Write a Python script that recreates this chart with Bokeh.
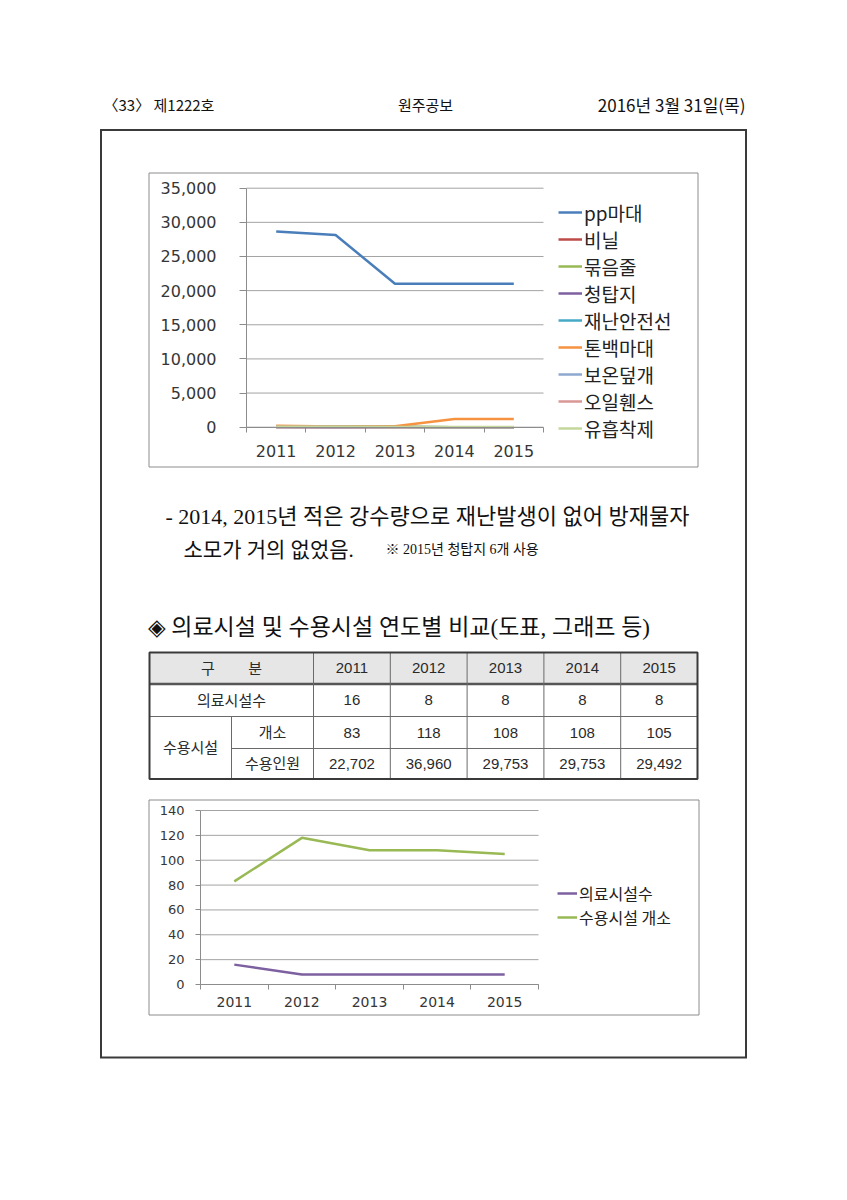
from bokeh.plotting import figure
from bokeh.models import (Range1d, Legend, LegendItem, FixedTicker, LinearAxis,
                          NumeralTickFormatter, BasicTickFormatter, ColumnDataSource)
from bokeh.core.properties import value
from bokeh.embed import file_html
from bokeh.resources import INLINE

# ------------------------------------------------------------------ data
years = [2011, 2012, 2013, 2014, 2015]

material_names = ["pp마대", "비닐", "묶음줄", "청탑지", "재난안전선",
                  "톤백마대", "보온덮개", "오일휀스", "유흡착제"]
pp_bags = [28650, 28150, 21000, 21000, 21000]
vinyl = [60, 40, 30, 0, 0]
bundle_rope = [120, 90, 60, 0, 0]
blue_tarp = [20, 10, 10, 0, 6]
safety_line = [40, 30, 20, 0, 0]
ton_bags = [200, 100, 150, 1200, 1200]
warm_cover = [30, 20, 10, 0, 0]
oil_fence = [10, 10, 5, 0, 0]
absorbent = [80, 60, 40, 20, 20]
material_colors = ["#4A7EBB", "#BE4B48", "#98B954", "#7D60A0", "#46AAC5",
                   "#F69240", "#8EA9D0", "#D99795", "#C4D79B"]
y1_ticks = [0, 5000, 10000, 15000, 20000, 25000, 30000, 35000]

facility_names = ["의료시설수", "수용시설 개소"]
medical_facilities = [16, 8, 8, 8, 8]
shelter_sites = [83, 118, 108, 108, 105]
shelter_capacity = [22702, 36960, 29753, 29753, 29492]
facility_colors = ["#7D60A0", "#98B954"]
y2_ticks = [0, 20, 40, 60, 80, 100, 120, 140]

header_left = "〈33〉 제1222호"
header_mid = "원주공보"
header_right = "2016년 3월 31일(목)"
para_line1 = "- 2014, 2015년 적은 강수량으로 재난발생이 없어 방재물자"
para_line2 = "소모가 거의 없었음."
para_note = "※ 2015년 청탑지 6개 사용"
heading = "◈ 의료시설 및 수용시설 연도별 비교(도표, 그래프 등)"
table_head = "구\u00a0\u00a0\u00a0\u00a0\u00a0\u00a0\u00a0\u00a0분"
row_medical = "의료시설수"
row_shelter = "수용시설"
row_sites = "개소"
row_capacity = "수용인원"

# ------------------------------------------------------------------ layout constants
W, H = 847, 1200
KR = "Noto Sans CJK KR"
SERIF = "'Liberation Serif', 'Noto Sans CJK KR'"
TABLE_FONT = "'Liberation Sans', 'Noto Sans CJK KR'"
TICK_FONT = "DejaVu Sans"
BOX = dict(l=100.5, r=745.5, t=129.5, b=1057.0)
BOX_COLOR = "#3a3a3a"
C1 = dict(l=148.5, r=697.5, t=172.5, b=466.5)
C2 = dict(l=148.5, r=698.5, t=799.5, b=1014.5)
P1 = dict(x0=246.0, x1=543.0, y0=426.7, y1=187.7)   # plot area of chart 1 (page px)
P2 = dict(x0=200.0, x1=538.0, y0=984.0, y1=810.0)   # plot area of chart 2 (page px)
TBL_X = [149, 231, 313] + [313 + i * 76.8 for i in range(1, 6)]
TBL_Y = [652, 683.5, 716, 748, 778.5]


def mapped_range(d0, p0, d1, p1, p_start, p_end):
    k = (d1 - d0) / (p1 - p0)
    return Range1d(start=d0 + (p_start - p0) * k, end=d0 + (p_end - p0) * k)


p = figure(width=W, height=H, x_range=Range1d(0, W), y_range=Range1d(H, 0),
           output_backend="svg", toolbar_location=None, tools="",
           x_axis_location=None, y_axis_location=None, min_border=0,
           outline_line_color=None, background_fill_color="white",
           border_fill_color="white")
p.xgrid.visible = False
p.ygrid.visible = False

x_lo, x_hi = years[0] - 0.5, years[-1] + 0.5
p.extra_x_ranges = {
    "c1x": mapped_range(x_lo, P1["x0"], x_hi, P1["x1"], 0, W),
    "c2x": mapped_range(x_lo, P2["x0"], x_hi, P2["x1"], 0, W),
}
p.extra_y_ranges = {
    "c1y": mapped_range(y1_ticks[0], P1["y0"], y1_ticks[-1], P1["y1"], H, 0),
    "c2y": mapped_range(y2_ticks[0], P2["y0"], y2_ticks[-1], P2["y1"], H, 0),
}


def txt(x, y, s, size, font=KR, align="left", color="#111111"):
    p.text(x=[x], y=[y], text=[s], text_font=value(font), text_font_size=value(size),
           text_align=align, text_baseline="middle", text_color=color)


def hseg(x0, x1, y, color, w):
    p.segment(x0=[x0], y0=[y], x1=[x1], y1=[y], line_color=color, line_width=w)


def vseg(x, y0, y1, color, w):
    p.segment(x0=[x], y0=[y0], x1=[x], y1=[y1], line_color=color, line_width=w)


# ------------------------------------------------------------------ page frame + header
hseg(BOX["l"] - 1, BOX["r"] + 1, BOX["t"], BOX_COLOR, 2)
hseg(BOX["l"] - 1, BOX["r"] + 1, BOX["b"], BOX_COLOR, 2)
vseg(BOX["l"], BOX["t"], BOX["b"], BOX_COLOR, 2)
vseg(BOX["r"], BOX["t"], BOX["b"], BOX_COLOR, 2)
txt(103, 104, header_left, "15px")
txt(425, 104, header_mid, "15px", align="center")
txt(745, 104, header_right, "17px", align="right")

# chart boxes
for c in (C1, C2):
    p.quad(left=[c["l"]], right=[c["r"]], top=[c["t"]], bottom=[c["b"]],
           fill_color=None, line_color="#8c8c8c", line_width=1)

# ------------------------------------------------------------------ text block
txt(165, 516, para_line1, "22px", font=SERIF)
txt(183, 549, para_line2, "21px", font=SERIF)
txt(385, 549, para_note, "14px", font=SERIF)
txt(147, 627, heading, "23px", font=SERIF)

# ------------------------------------------------------------------ table
p.quad(left=[TBL_X[0]], right=[TBL_X[-1]], top=[TBL_Y[0]], bottom=[TBL_Y[1]],
       fill_color="#e6e6e6", line_color=None)
hseg(TBL_X[0], TBL_X[-1], TBL_Y[2], "#6a6a6a", 1)
hseg(TBL_X[1], TBL_X[-1], TBL_Y[3], "#6a6a6a", 1)
hseg(TBL_X[0], TBL_X[-1], TBL_Y[1], "#555555", 2.5)
vseg(TBL_X[1], TBL_Y[2], TBL_Y[4], "#6a6a6a", 1)
for x in TBL_X[2:-1]:
    vseg(x, TBL_Y[0], TBL_Y[4], "#6a6a6a", 1)
p.quad(left=[TBL_X[0]], right=[TBL_X[-1]], top=[TBL_Y[0]], bottom=[TBL_Y[4]],
       fill_color=None, line_color="#3a3a3a", line_width=2)


def mid(a, b):
    return (a + b) / 2


TS = "15px"
tc = "#2a2a2a"
txt(mid(TBL_X[0], TBL_X[2]), mid(TBL_Y[0], TBL_Y[1]), table_head, TS, TABLE_FONT, "center", tc)
txt(mid(TBL_X[0], TBL_X[2]), mid(TBL_Y[1], TBL_Y[2]), row_medical, TS, TABLE_FONT, "center", tc)
txt(mid(TBL_X[0], TBL_X[1]), mid(TBL_Y[2], TBL_Y[4]), row_shelter, TS, TABLE_FONT, "center", tc)
txt(mid(TBL_X[1], TBL_X[2]), mid(TBL_Y[2], TBL_Y[3]), row_sites, TS, TABLE_FONT, "center", tc)
txt(mid(TBL_X[1], TBL_X[2]), mid(TBL_Y[3], TBL_Y[4]), row_capacity, TS, TABLE_FONT, "center", tc)
cols = [mid(TBL_X[i + 2], TBL_X[i + 3]) for i in range(len(years))]
rows_y = [mid(TBL_Y[k], TBL_Y[k + 1]) for k in range(4)]
table_rows = [[str(y) for y in years],
              [str(v) for v in medical_facilities],
              [str(v) for v in shelter_sites],
              [f"{v:,}" for v in shelter_capacity]]
for k, labels in enumerate(table_rows):
    p.text(x=cols, y=[rows_y[k]] * len(cols), text=labels,
           text_font=value(TABLE_FONT), text_font_size=value(TS),
           text_align="center", text_baseline="middle", text_color=tc)


# ------------------------------------------------------------------ charts
def chart_axes(xr, yr, yticks, yfmt, ysize, xsize, ytick_out, ystand, xstand):
    n = len(yticks)
    p.segment(x0=[x_lo] * n, x1=[x_hi] * n, y0=yticks, y1=yticks,
              x_range_name=xr, y_range_name=yr, line_color="#a3a3a3", line_width=1)
    xa = LinearAxis(x_range_name=xr, y_range_name=yr, fixed_location=yticks[0],
                    bounds=(x_lo, x_hi),
                    ticker=FixedTicker(ticks=years,
                                       minor_ticks=[y - 0.5 for y in years] + [x_hi]),
                    formatter=BasicTickFormatter(use_scientific=False))
    ya = LinearAxis(x_range_name=xr, y_range_name=yr, fixed_location=x_lo,
                    bounds=(yticks[0], yticks[-1]), ticker=FixedTicker(ticks=yticks),
                    formatter=yfmt)
    for ax in (xa, ya):
        ax.axis_line_color = "#8c8c8c"
        ax.major_tick_line_color = "#8c8c8c"
        ax.minor_tick_line_color = "#8c8c8c"
        ax.major_label_text_font = TICK_FONT
        ax.major_label_text_color = "#363636"
    ya.major_tick_out = ytick_out
    ya.major_tick_in = 0
    ya.minor_tick_out = 0
    ya.minor_tick_in = 0
    ya.major_label_text_font_size = ysize
    ya.major_label_standoff = ystand
    xa.major_tick_out = 0
    xa.major_tick_in = 0
    xa.minor_tick_out = 5
    xa.minor_tick_in = 0
    xa.major_label_text_font_size = xsize
    xa.major_label_standoff = xstand
    p.add_layout(xa, "below")
    p.add_layout(ya, "left")


chart_axes("c1x", "c1y", y1_ticks, NumeralTickFormatter(format="0,0"),
           "16px", "16px", 7, 23, 13)
chart_axes("c2x", "c2y", y2_ticks, BasicTickFormatter(), "13px", "14px", 5, 11, 7)

series1 = [pp_bags, vinyl, bundle_rope, blue_tarp, safety_line,
           ton_bags, warm_cover, oil_fence, absorbent]
items1 = []
for name, vals, color in zip(material_names, series1, material_colors):
    src = ColumnDataSource(dict(year=years, v=vals))
    r = p.line("year", "v", source=src, line_color=color, line_width=2.5,
               x_range_name="c1x", y_range_name="c1y")
    items1.append(LegendItem(label=name, renderers=[r]))
leg1 = Legend(items=items1, location=(558, H - 441.5), margin=0, padding=0,
              spacing=0, glyph_width=24, glyph_height=20, label_height=20,
              label_standoff=2, label_text_font=KR, label_text_font_size="19px",
              label_text_color="#222222", border_line_color=None,
              background_fill_alpha=0)
p.add_layout(leg1, "center")

items2 = []
for name, vals, color in zip(facility_names, [medical_facilities, shelter_sites],
                             facility_colors):
    src = ColumnDataSource(dict(year=years, v=vals))
    r = p.line("year", "v", source=src, line_color=color, line_width=2.5,
               x_range_name="c2x", y_range_name="c2y")
    items2.append(LegendItem(label=name, renderers=[r]))
leg2 = Legend(items=items2, location=(557, H - 929), margin=0, padding=0,
              spacing=0, glyph_width=20, glyph_height=18, label_height=18,
              label_standoff=2, label_text_font=KR, label_text_font_size="16px",
              label_text_color="#222222", border_line_color=None,
              background_fill_alpha=0)
p.add_layout(leg2, "center")

open("out.html", "w").write(file_html(p, INLINE))
